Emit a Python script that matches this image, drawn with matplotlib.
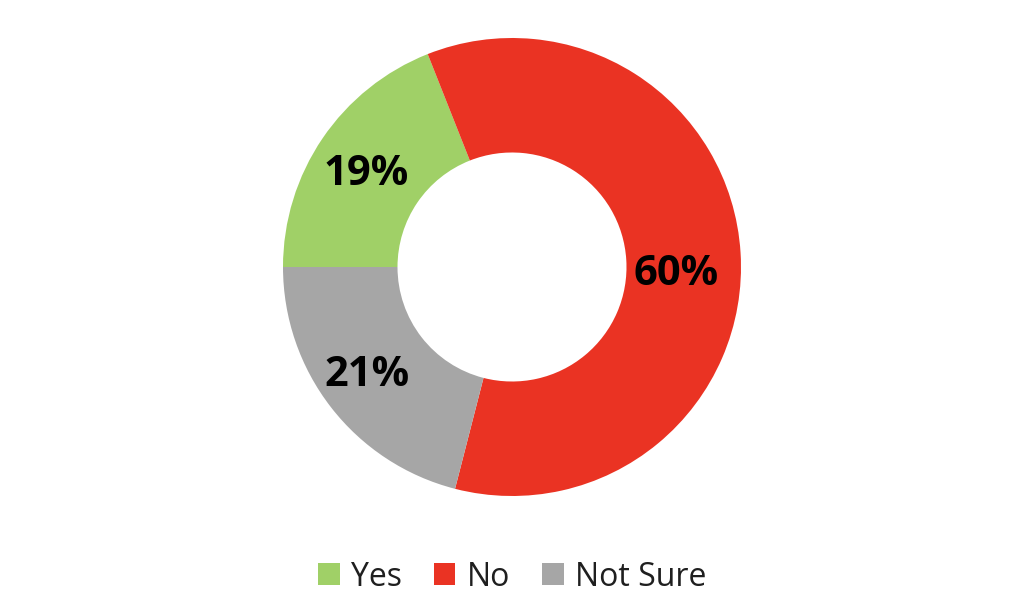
import matplotlib
matplotlib.use("Agg")
import matplotlib.pyplot as plt

# data
labels = ["Yes", "No", "Not Sure"]
values = [19, 60, 21]
colors = ["#A0D067", "#EA3323", "#A6A6A6"]

# where the percentage labels sit (axes data units, ring radius = 1)
label_pos = [(-0.638, 0.424), (0.716, -0.009), (-0.633, -0.45)]

plt.rcParams['font.family'] = ['Open Sans', 'DejaVu Sans']

fig = plt.figure(figsize=(10.24, 6.02), dpi=100)
ax = fig.add_axes([(512 - 229) / 1024, (602 - 267 - 229) / 602, 458 / 1024, 458 / 602])

wedges, texts, autotexts = ax.pie(
    values, colors=colors, startangle=180, counterclock=False,
    radius=1.0, wedgeprops=dict(width=0.5, edgecolor='none'),
    autopct=lambda p: f'{p:.0f}%', pctdistance=0.75,
    textprops=dict(fontsize=30, fontweight='bold', color='black'))
for t, pos in zip(autotexts, label_pos):
    t.set_position(pos)
    t.set_va('center_baseline')
ax.set_xlim(-1, 1)
ax.set_ylim(-1, 1)
ax.set_aspect('equal')
ax.axis('off')

leg = fig.legend(wedges, labels, loc='center', bbox_to_anchor=(0.5, 1 - 577 / 602),
                 ncol=3, frameon=False, fontsize=23, handlelength=0.68, handleheight=0.68,
                 handletextpad=0.35, columnspacing=1.0)
for t in leg.get_texts():
    t.set_color('#1f1f1f')

fig.savefig("out.png", dpi=100)
